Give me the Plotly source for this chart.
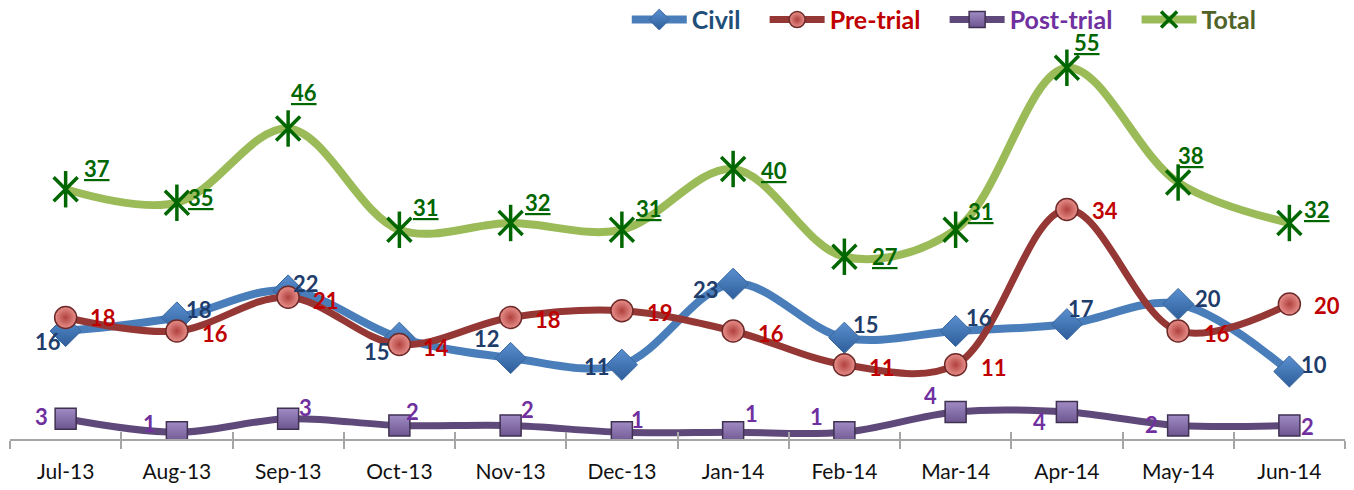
import plotly.graph_objects as go

# ---- data ----
months = ["Jul-13", "Aug-13", "Sep-13", "Oct-13", "Nov-13", "Dec-13",
          "Jan-14", "Feb-14", "Mar-14", "Apr-14", "May-14", "Jun-14"]
civil = [16, 18, 22, 15, 12, 11, 23, 15, 16, 17, 20, 10]
pre_trial = [18, 16, 21, 14, 18, 19, 16, 11, 11, 34, 16, 20]
post_trial = [3, 1, 3, 2, 2, 1, 1, 1, 4, 4, 2, 2]
total = [37, 35, 46, 31, 32, 31, 40, 27, 31, 55, 38, 32]

# ---- label offsets (pixels, dx right, dy down) ----
civil_off = [(-18, 10), (22, -8), (18, -7), (-22, 14), (-24, -20), (-25, 2),
             (-27, 6), (22, -13), (23, -14), (14, -16), (30, -6), (25, -7)]
pre_off = [(37, 0), (38, 2), (38, 3), (37, 3), (37, 2), (38, 2),
           (38, 2), (38, 3), (38, 3), (38, 1), (39, 2), (38, 1)]
post_off = [(-24, -2), (-27, -9), (17, -11), (13, -14), (17, -16), (16, -13),
            (18, -19), (-28, -16), (-25, -17), (-27, 9), (-27, -1), (18, 1)]
total_off = [(31, -21), (24, -5), (16, -36), (27, -22), (27, -21), (27, -21),
             (41, 1), (41, 0), (25, -18), (20, -25), (13, -27), (28, -14)]

x = list(range(len(months)))
FONT = "Lato"
SP = "&nbsp;" * 3

fig = go.Figure()

fig.add_trace(go.Scatter(
    x=x, y=civil, name=f"<b><span style='color:#1F4E79'>Civil</span></b>{SP}",
    mode="lines+markers",
    line=dict(color="#4A7EBB", width=8, shape="spline", smoothing=1.0),
    marker=dict(symbol="diamond", size=24, color="#5A8FD0",
                gradient=dict(type="vertical", color="#2E5E9A"),
                line=dict(color="#3A679E", width=1)),
))
fig.add_trace(go.Scatter(
    x=x, y=pre_trial, name=f"<b><span style='color:#C00000'>Pre-trial</span></b>{SP}",
    mode="lines+markers",
    line=dict(color="#953735", width=7, shape="spline", smoothing=1.0),
    marker=dict(symbol="circle", size=22, color="#E8908C",
                gradient=dict(type="radial", color="#B0413E"),
                line=dict(color="#6E2A28", width=1.5)),
))
fig.add_trace(go.Scatter(
    x=x, y=post_trial, name=f"<b><span style='color:#7030A0'>Post-trial</span></b>{SP}",
    mode="lines+markers",
    line=dict(color="#5F497A", width=7, shape="spline", smoothing=1.0),
    marker=dict(symbol="square", size=21, color="#A18BC4",
                gradient=dict(type="vertical", color="#6D5690"),
                line=dict(color="#3F3151", width=1.5)),
))
fig.add_trace(go.Scatter(
    x=x, y=total, name="<b><span style='color:#4F6228'>Total</span></b>",
    mode="lines+markers",
    line=dict(color="#9BBB59", width=8, shape="spline", smoothing=1.0),
    marker=dict(symbol="x-thin-open", size=24, color="#006600",
                line=dict(color="#006600", width=3.5)),
    legendgroup="total",
))
fig.add_trace(go.Scatter(
    x=x, y=total, name="Total", mode="markers", showlegend=False,
    marker=dict(symbol="line-ns-open", size=26, color="#006600",
                line=dict(color="#006600", width=3.5)),
    legendgroup="total", hoverinfo="skip",
))

annotations = []
def add_labels(vals, offs, color, underline=False):
    for i, (v, (dx, dy)) in enumerate(zip(vals, offs)):
        t = f"<b>{v}</b>"
        if underline:
            t = f"<u>{t}</u>"
        annotations.append(dict(
            x=i, y=v, xref="x", yref="y", text=t, showarrow=False,
            xshift=dx, yshift=-dy, xanchor="center", yanchor="middle",
            font=dict(family=FONT, size=22, color=color)))

add_labels(civil, civil_off, "#1F3D6B")
add_labels(pre_trial, pre_off, "#C00000")
add_labels(post_trial, post_off, "#7030A0")
add_labels(total, total_off, "#006600", underline=True)

half = [i - 0.5 for i in range(len(months) + 1)]

fig.update_layout(
    width=1354, height=490,
    margin=dict(l=10, r=9, t=34, b=51, autoexpand=False),
    paper_bgcolor="white", plot_bgcolor="white",
    showlegend=True,
    legend=dict(orientation="h", x=0.462, xanchor="left", y=1.035, yanchor="middle",
                font=dict(family=FONT, size=25), bgcolor="rgba(0,0,0,0)",
                itemwidth=55, tracegroupgap=0),
    annotations=annotations,
    xaxis=dict(range=[-0.5, 11.5], tickmode="array", tickvals=x, ticktext=months,
               showgrid=False, zeroline=False, showline=True,
               linecolor="#A6A6A6", linewidth=2,
               ticks="", ticklabelstandoff=13, automargin=False,
               tickfont=dict(family=FONT, size=21, color="#111111"),
               minor=dict(tickmode="array", tickvals=half, ticks="outside",
                          ticklen=8, tickwidth=2, tickcolor="#A6A6A6")),
    xaxis2=dict(range=[-0.5, 11.5], overlaying="x", anchor="y", side="bottom",
                tickmode="array", tickvals=half, ticks="inside", ticklen=7,
                tickwidth=2, tickcolor="#A6A6A6", showticklabels=False,
                showgrid=False, zeroline=False, showline=False),
    yaxis=dict(range=[0, 60], visible=False, showgrid=False, zeroline=False,
               automargin=False),
)

# invisible trace so xaxis2 renders
fig.add_trace(go.Scatter(x=[0], y=[0], xaxis="x2", mode="markers",
                         marker=dict(opacity=0), showlegend=False, hoverinfo="skip"))

fig.write_html("out.html", config={"displayModeBar": False},
               post_script="document.body.style.margin='0';document.body.style.overflow='hidden';")
